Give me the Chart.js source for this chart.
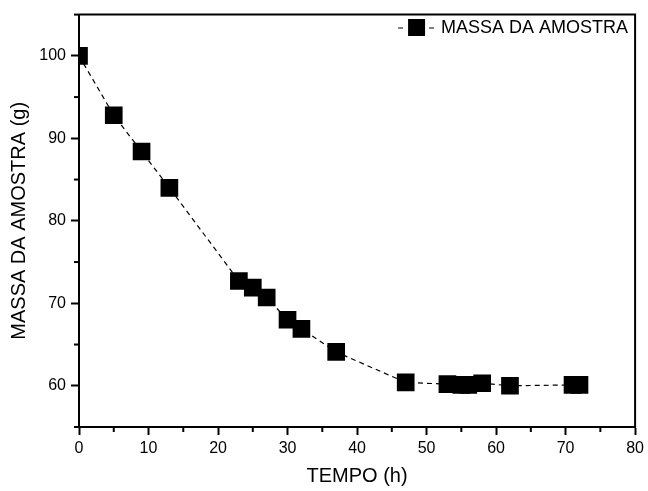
<!DOCTYPE html>
<html>
<head>
<meta charset="utf-8">
<script src="https://cdn.jsdelivr.net/npm/chart.js@4"></script>
<style>
  html, body { margin: 0; padding: 0; background: #fff; }
  #wrap { width: 648px; height: 491px; }
</style>
</head>
<body>
<div id="wrap"><canvas id="massaChart" width="648" height="491"></canvas></div>
<script>
// Dados
const tempo = [0, 5, 9, 13, 23, 25, 27, 30, 32, 37, 47, 53, 55, 56, 58, 62, 71, 72];
const massa = [100.0, 92.8, 88.4, 84.0, 72.7, 71.9, 70.7, 68.0, 66.9, 64.1, 60.4, 60.2, 60.1, 60.1, 60.3, 60.0, 60.1, 60.1];
const serieLabel = 'MASSA DA AMOSTRA';
const xTitulo = 'TEMPO (h)';
const yTitulo = 'MASSA DA AMOSTRA (g)';

const fonte = '"Liberation Sans", Arial, sans-serif';
const isMajor = v => v % 10 === 0;

// Moldura (topo e direita), ticks menores e legenda interna
const extrasPlugin = {
    id: 'extras',
    afterDraw(chart) {
        const ctx = chart.ctx;
        const a = chart.chartArea;
        ctx.save();
        ctx.strokeStyle = '#000';
        ctx.lineWidth = 2;
        ctx.beginPath();
        ctx.moveTo(a.left, a.top);
        ctx.lineTo(a.right, a.top);
        ctx.lineTo(a.right, a.bottom);
        ctx.stroke();

        // ticks menores
        const xs = chart.scales.x, ys = chart.scales.y;
        xs.ticks.forEach(t => {
            if (isMajor(t.value)) return;
            const px = xs.getPixelForValue(t.value);
            ctx.beginPath();
            ctx.moveTo(px, a.bottom);
            ctx.lineTo(px, a.bottom + 5);
            ctx.stroke();
        });
        ys.ticks.forEach(t => {
            if (isMajor(t.value)) return;
            const py = ys.getPixelForValue(t.value);
            ctx.beginPath();
            ctx.moveTo(a.left, py);
            ctx.lineTo(a.left - 5, py);
            ctx.stroke();
        });

        // legenda
        ctx.font = '18px ' + fonte;
        ctx.fillStyle = '#000';
        ctx.textBaseline = 'middle';
        ctx.textAlign = 'right';
        const ly = 28;
        const textRight = a.right - 7;
        const w = ctx.measureText(serieLabel).width;
        ctx.fillText(serieLabel, textRight, ly);
        const textLeft = textRight - w;
        ctx.lineWidth = 1.2;
        ctx.beginPath();
        ctx.moveTo(textLeft - 12, ly); ctx.lineTo(textLeft - 7, ly);
        ctx.moveTo(textLeft - 43, ly); ctx.lineTo(textLeft - 38, ly);
        ctx.stroke();
        ctx.fillRect(textLeft - 33, ly - 9, 17, 17);
        ctx.restore();
    }
};

new Chart(document.getElementById('massaChart'), {
    type: 'line',
    data: {
        datasets: [{
            label: serieLabel,
            data: tempo.map((t, i) => ({ x: t, y: massa[i] })),
            borderColor: '#000',
            borderWidth: 1.2,
            borderDash: [5, 4],
            backgroundColor: '#000',
            pointStyle: 'rect',
            pointRadius: 12.5,
            pointHoverRadius: 12.5,
            pointBorderWidth: 0,
            tension: 0,
            clip: 0
        }]
    },
    options: {
        responsive: false,
        animation: false,
        layout: { padding: { left: 0, top: 12, right: 12, bottom: 0 } },
        plugins: { legend: { display: false }, tooltip: { enabled: false } },
        scales: {
            x: {
                type: 'linear',
                min: 0, max: 80,
                afterFit: s => { s.height = 64; },
                border: { display: true, color: '#000', width: 2 },
                grid: {
                    drawOnChartArea: false,
                    tickLength: 8,
                    tickWidth: 2,
                    tickColor: c => isMajor(c.tick.value) ? '#000' : 'rgba(0,0,0,0)'
                },
                ticks: {
                    stepSize: 5,
                    autoSkip: false,
                    maxRotation: 0,
                    padding: 4,
                    color: '#000',
                    font: { family: fonte, size: 16 },
                    callback: v => isMajor(v) ? v : ''
                },
                title: {
                    display: true, text: xTitulo, color: '#000',
                    font: { family: fonte, size: 20 },
                    padding: { top: 0, bottom: 3 }
                }
            },
            y: {
                type: 'linear',
                min: 55, max: 105,
                afterFit: s => { s.width = 79; },
                border: { display: true, color: '#000', width: 2 },
                grid: {
                    drawOnChartArea: false,
                    tickLength: 8,
                    tickWidth: 2,
                    tickColor: c => isMajor(c.tick.value) ? '#000' : 'rgba(0,0,0,0)'
                },
                ticks: {
                    stepSize: 5,
                    autoSkip: false,
                    padding: 5,
                    color: '#000',
                    font: { family: fonte, size: 16 },
                    callback: v => isMajor(v) ? v : ''
                },
                title: {
                    display: true, text: yTitulo, color: '#000',
                    font: { family: fonte, size: 20 },
                    padding: { top: 7, bottom: 0 }
                }
            }
        }
    },
    plugins: [extrasPlugin]
});
</script>
</body>
</html>
